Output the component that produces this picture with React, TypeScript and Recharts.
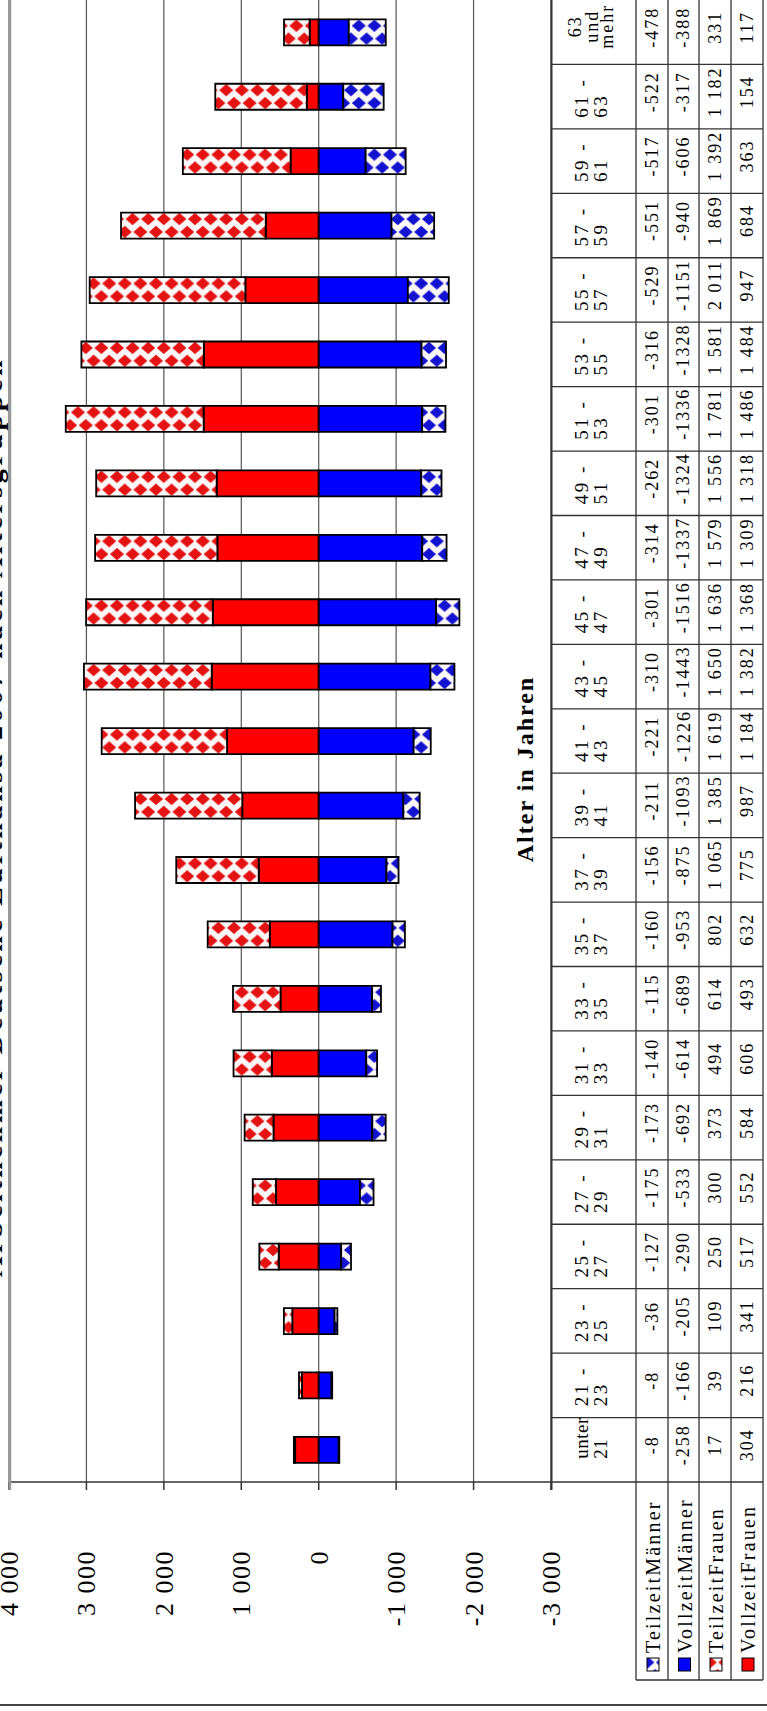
import { BarChart, Bar, XAxis, YAxis, CartesianGrid } from 'recharts'

const SERIF = "'Liberation Serif', 'Times New Roman', serif"

const categories = [
  'unter 21', '21 - 23', '23 - 25', '25 - 27', '27 - 29', '29 - 31', '31 - 33', '33 - 35',
  '35 - 37', '37 - 39', '39 - 41', '41 - 43', '43 - 45', '45 - 47', '47 - 49', '49 - 51',
  '51 - 53', '53 - 55', '55 - 57', '57 - 59', '59 - 61', '61 - 63', '63 und mehr',
]
const teilzeitMaenner = [-8, -8, -36, -127, -175, -173, -140, -115, -160, -156, -211, -221, -310, -301, -314, -262, -301, -316, -529, -551, -517, -522, -478]
const vollzeitMaenner = [-258, -166, -205, -290, -533, -692, -614, -689, -953, -875, -1093, -1226, -1443, -1516, -1337, -1324, -1336, -1328, -1151, -940, -606, -317, -388]
const teilzeitFrauen = [17, 39, 109, 250, 300, 373, 494, 614, 802, 1065, 1385, 1619, 1650, 1636, 1579, 1556, 1781, 1581, 2011, 1869, 1392, 1182, 331]
const vollzeitFrauen = [304, 216, 341, 517, 552, 584, 606, 493, 632, 775, 987, 1184, 1382, 1368, 1309, 1318, 1486, 1484, 947, 684, 363, 154, 117]
const valueTicks = [-3000, -2000, -1000, 0, 1000, 2000, 3000, 4000]

const title = 'Arbeitnehmer Deutsche Lufthansa 2007 nach Altersgruppen'
const axisTitle = 'Alter in Jahren'

const data = categories.map((name, i) => ({
  name,
  vzf: vollzeitFrauen[i],
  tzf: teilzeitFrauen[i],
  vzm: vollzeitMaenner[i],
  tzm: teilzeitMaenner[i],
}))

// table rows, left to right in the rotated picture
const tableRows = [
  { label: 'TeilzeitMänner', values: teilzeitMaenner, fill: 'url(#keyBlue)' },
  { label: 'VollzeitMänner', values: vollzeitMaenner, fill: '#0000ff' },
  { label: 'TeilzeitFrauen', values: teilzeitFrauen, fill: 'url(#keyRed)' },
  { label: 'VollzeitFrauen', values: vollzeitFrauen, fill: '#ff0000' },
]

const W = 767
const H = 1711
const PLOT_BOTTOM = 1482
const PLOT_LEFT = 9
const PLOT_RIGHT = 551
const BAND = PLOT_BOTTOM / categories.length
const ROW_STEP = BAND / 5
const COLS = [636, 668, 699, 731, 763]

function fmtAxis(v: number) {
  return Math.abs(v) >= 1000 ? `${Math.trunc(v / 1000)} ${String(Math.abs(v) % 1000).padStart(3, '0')}` : String(v)
}

function fmtCell(v: number) {
  if (v >= 1000) return `${Math.trunc(v / 1000)} ${String(v % 1000).padStart(3, '0')}`
  return String(v)
}

function diamond(cx: number, cy: number, a = 7, b = 6.2) {
  return `M${cx - a} ${cy}L${cx} ${cy - b}L${cx + a} ${cy}L${cx} ${cy + b}Z`
}

function Pattern({ id, color }: { id: string; color: string }) {
  const w = 15.6
  const h = ROW_STEP * 2
  return (
    <pattern id={id} patternUnits="userSpaceOnUse" width={w} height={h}>
      <rect width={w} height={h} fill="#fdf8f8" />
      <path
        d={diamond(0, 0) + diamond(w, 0) + diamond(0, h) + diamond(w, h) + diamond(w / 2, h / 2)}
        fill={color}
      />
    </pattern>
  )
}

function ValueTick(props: any) {
  const { x, payload } = props
  const tx = x + 9
  const ty = 1550
  return (
    <text
      x={tx}
      y={ty}
      transform={`rotate(-90 ${tx} ${ty})`}
      textAnchor="end"
      fontFamily={SERIF}
      fontSize={26}
      letterSpacing={1.5}
      fill="#000"
    >
      {fmtAxis(payload.value)}
    </text>
  )
}

function Rot({ x, y, anchor = 'start', size = 18, spacing = 2, bold = false, children }: any) {
  return (
    <text
      x={x}
      y={y}
      transform={`rotate(-90 ${x} ${y})`}
      textAnchor={anchor}
      fontFamily={SERIF}
      fontSize={size}
      fontWeight={bold ? 'bold' : 'normal'}
      letterSpacing={spacing}
      fill="#000"
    >
      {children}
    </text>
  )
}

function categoryLabel(cat: string, center: number) {
  if (cat === '63 und mehr') {
    return ['63', 'und', 'mehr'].map((t, j) => (
      <Rot key={j} x={[581, 598, 613][j]} y={center - 6} anchor="middle" size={18}>{t}</Rot>
    ))
  }
  const isUnter = cat.startsWith('unter')
  const parts = isUnter ? ['unter', '21'] : [cat.split(' - ')[0] + ' -', cat.split(' - ')[1]]
  const start = isUnter ? center + 9 : center + 21
  return parts.map((t, j) => (
    <Rot key={j} x={[588, 607][j]} y={start} size={19} spacing={isUnter ? 0.5 : 2.5}>{t}</Rot>
  ))
}

function DataTable() {
  const lineColor = '#333'
  return (
    <svg width={W} height={H} style={{ position: 'absolute', left: 0, top: 0 }}>
      <defs>
        <Pattern id="keyRed" color="#e41212" />
        <Pattern id="keyBlue" color="#1212d0" />
      </defs>
      {/* title, mostly cut off by the page edge */}
      <Rot x={2} y={1277} size={28} spacing={3.6} bold>{title}</Rot>
      <Rot x={533} y={769} anchor="middle" size={24} spacing={2} bold>{axisTitle}</Rot>

      {/* plot borders */}
      <line x1={10} y1={0} x2={10} y2={1490} stroke="#999" strokeWidth={2.5} />
      <line x1={PLOT_RIGHT + 0.5} y1={0} x2={PLOT_RIGHT + 0.5} y2={1490} stroke={lineColor} strokeWidth={2} />
      <line x1={0} y1={1705} x2={W} y2={1705} stroke="#444" strokeWidth={2} />

      {/* table grid */}
      {categories.map((_, i) => {
        const y = PLOT_BOTTOM - i * BAND
        return <line key={i} x1={PLOT_RIGHT} y1={y} x2={COLS[4]} y2={y} stroke={lineColor} strokeWidth={1.3} />
      })}
      {COLS.map((x) => (
        <line key={x} x1={x} y1={0} x2={x} y2={1680} stroke={lineColor} strokeWidth={1.3} />
      ))}
      <line x1={COLS[0]} y1={1680} x2={COLS[4]} y2={1680} stroke={lineColor} strokeWidth={1.3} />

      {/* category labels and values */}
      {categories.map((cat, i) => {
        const center = PLOT_BOTTOM - (i + 0.5) * BAND
        return (
          <g key={cat}>
            {categoryLabel(cat, center)}
            {tableRows.map((r, k) => (
              <Rot key={k} x={(COLS[k] + COLS[k + 1]) / 2 + 6} y={center - 5} anchor="middle">
                {fmtCell(r.values[i])}
              </Rot>
            ))}
          </g>
        )
      })}

      {/* row labels with legend keys */}
      {tableRows.map((r, k) => {
        const cx = (COLS[k] + COLS[k + 1]) / 2
        return (
          <g key={r.label}>
            <rect x={cx - 5} y={1658} width={12} height={13} fill={r.fill} stroke="#000" strokeWidth={1} />
            <Rot x={cx + 8} y={1653} size={20} spacing={2.2}>{r.label}</Rot>
          </g>
        )
      })}
    </svg>
  )
}

export default function App() {
  return (
    <div style={{ position: 'absolute', left: 0, top: 0, width: W, height: H, background: '#fff' }}>
      <BarChart
        width={W}
        height={H}
        data={data}
        layout="vertical"
        stackOffset="sign"
        barCategoryGap="30%"
        margin={{ top: 0, right: W - PLOT_RIGHT, bottom: 0, left: PLOT_LEFT }}
      >
        <defs>
          <Pattern id="patRed" color="#e41212" />
          <Pattern id="patBlue" color="#1212d0" />
        </defs>
        <CartesianGrid horizontal={false} stroke="#555" strokeWidth={1.2} />
        <XAxis
          type="number"
          domain={[-3000, 4000]}
          ticks={valueTicks}
          interval={0}
          reversed
          allowDataOverflow
          height={H - PLOT_BOTTOM}
          tickSize={8}
          axisLine={{ stroke: '#333', strokeWidth: 1.5 }}
          tickLine={{ stroke: '#333', strokeWidth: 1.5 }}
          tick={<ValueTick />}
        />
        <YAxis type="category" dataKey="name" hide reversed width={0} />
        <Bar dataKey="vzf" stackId="a" fill="#ff0000" stroke="#000" strokeWidth={1.8} isAnimationActive={false} />
        <Bar dataKey="tzf" stackId="a" fill="url(#patRed)" stroke="#000" strokeWidth={1.8} isAnimationActive={false} />
        <Bar dataKey="vzm" stackId="a" fill="#0000ff" stroke="#000" strokeWidth={1.8} isAnimationActive={false} />
        <Bar dataKey="tzm" stackId="a" fill="url(#patBlue)" stroke="#000" strokeWidth={1.8} isAnimationActive={false} />
      </BarChart>
      <DataTable />
    </div>
  )
}
